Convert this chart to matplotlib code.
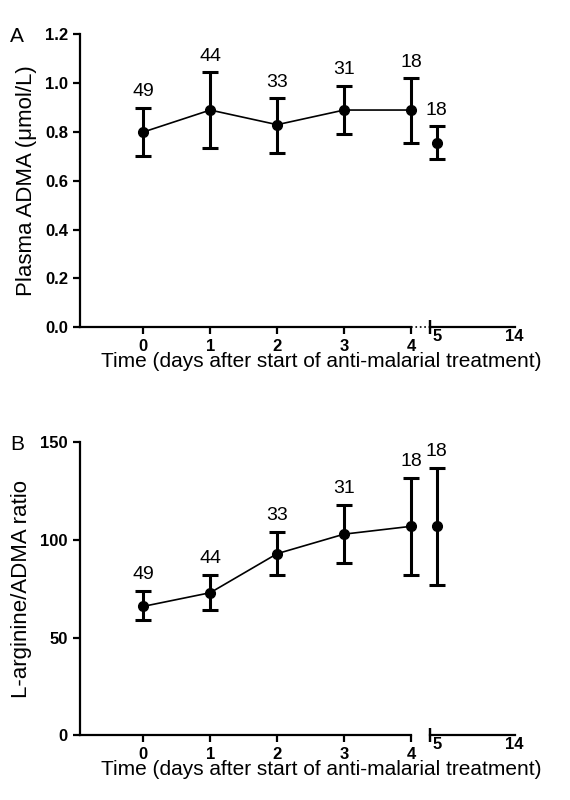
import matplotlib
matplotlib.use('Agg')
import matplotlib.pyplot as plt

plt.rcParams['font.family'] = ['Liberation Sans', 'DejaVu Sans']

days = [0, 1, 2, 3, 4]
n_labels = ['49', '44', '33', '31', '18']

adma = [0.80, 0.89, 0.83, 0.89, 0.89]
adma_lo = [0.70, 0.735, 0.715, 0.79, 0.755]
adma_hi = [0.90, 1.045, 0.94, 0.99, 1.02]
adma_d5 = 0.755
adma_d5_lo = 0.69
adma_d5_hi = 0.825

ratio = [66, 73, 93, 103, 107]
ratio_lo = [59, 64, 82, 88, 82]
ratio_hi = [74, 82, 104, 118, 132]
ratio_d5 = 107
ratio_d5_lo = 77
ratio_d5_hi = 137

fig = plt.figure(figsize=(5.7, 8), dpi=100)


def panel(bottom, y, lo, hi, y5, lo5, hi5, ylim, yticks, ytl, ylabel, off, letter):
    ax = fig.add_axes([0.140, bottom, 0.581, 0.366])
    ax2 = fig.add_axes([0.754, bottom, 0.149, 0.366])
    err = [[a - b for a, b in zip(y, lo)], [b - a for a, b in zip(y, hi)]]
    ax.errorbar(days, y, yerr=err, color='black', marker='o', ms=7, lw=1.2,
                elinewidth=2.2, capsize=6, capthick=2.2, clip_on=False)
    for d, v, h, t in zip(days, y, hi, n_labels):
        ax.text(d, h + off, t, ha='center', va='bottom', fontsize=14)
    ax.set_xlim(-0.95, 4)
    ax.set_ylim(*ylim)
    ax.set_yticks(yticks)
    ax.set_yticklabels(ytl, fontweight='bold', fontsize=12)
    ax.set_xticks(days)
    ax.set_xticklabels([str(d) for d in days], fontweight='bold', fontsize=12)
    ax.set_ylabel(ylabel, fontsize=16, labelpad=6)
    for s in ['top', 'right']:
        ax.spines[s].set_visible(False)
    for s in ax.spines.values():
        s.set_linewidth(1.6)
    ax.tick_params(width=1.6, length=5)

    ax2.errorbar([5], [y5], yerr=[[y5 - lo5], [hi5 - y5]], color='black', marker='o',
                 ms=7, elinewidth=2.2, capsize=6, capthick=2.2, clip_on=False)
    ax2.text(5, hi5 + off, '18', ha='center', va='bottom', fontsize=14)
    ax2.set_xlim(4.2, 14)
    ax2.set_ylim(*ylim)
    ax2.set_yticks([])
    ax2.set_xticks([4.2, 5, 14])
    ax2.set_xticklabels(['', '5', '14'], fontweight='bold', fontsize=12)
    ax2.tick_params(axis='x', length=0, pad=1)
    for s in ['top', 'right', 'left']:
        ax2.spines[s].set_visible(False)
    ax2.spines['bottom'].set_linewidth(1.6)
    ax2.plot([4.2, 4.2], [0, 0], marker='|', ms=10, mew=1.6, color='black', clip_on=False)
    ax.set_xlabel('Time (days after start of anti-malarial treatment)', fontsize=15)
    ax.xaxis.set_label_coords(0.73, -0.085)
    fig.text(0.018, bottom + 0.363, letter, fontsize=15, va='center')
    return ax, ax2


axA, axA2 = panel(0.591, adma, adma_lo, adma_hi, adma_d5, adma_d5_lo, adma_d5_hi,
                  (0, 1.2), [0, 0.2, 0.4, 0.6, 0.8, 1.0, 1.2],
                  ['0.0', '0.2', '0.4', '0.6', '0.8', '1.0', '1.2'],
                  'Plasma ADMA (\u03bcmol/L)', 0.03, 'A')
# dotted bridge across the break in panel A
fig.lines.append(plt.Line2D([0.721, 0.754], [0.591, 0.591], transform=fig.transFigure,
                            color='black', ls=':', lw=1.2))

axB, axB2 = panel(0.081, ratio, ratio_lo, ratio_hi, ratio_d5, ratio_d5_lo, ratio_d5_hi,
                  (0, 150), [0, 50, 100, 150], ['0', '50', '100', '150'],
                  'L-arginine/ADMA ratio', 4, 'B')

fig.savefig('out.png', dpi=100)
